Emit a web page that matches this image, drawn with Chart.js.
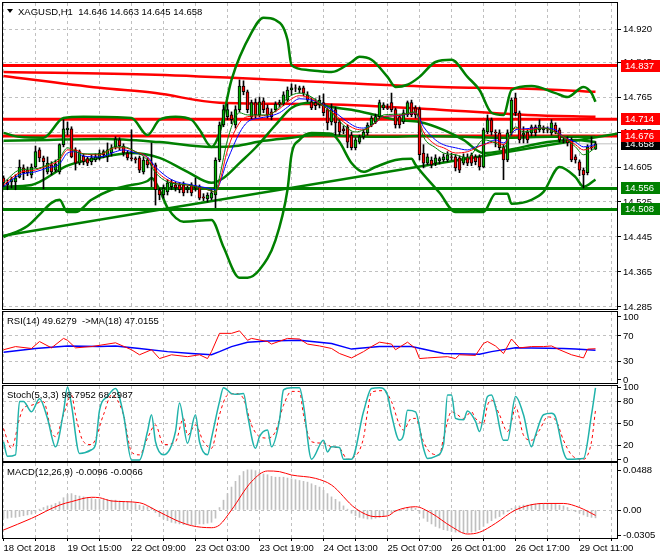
<!DOCTYPE html>
<html lang="en">
<head>
<meta charset="UTF-8">
<title>XAGUSD H1</title>
<script src="https://cdn.jsdelivr.net/npm/chart.js"></script>
<style>
  body { margin: 0; background: #fff; }
  .wrap { position: relative; width: 660px; height: 560px; }
  .wrap canvas { position: absolute; left: 0; top: 0; }
</style>
</head>
<body>
<div class="wrap">
  <canvas id="main" width="660" height="560"></canvas>
  <canvas id="rsi" width="660" height="560"></canvas>
  <canvas id="stoch" width="660" height="560"></canvas>
  <canvas id="macd" width="660" height="560"></canvas>
</div>
<script>
// ---- candles (H1, 149 bars) ----
const opens = [
  14.580,14.569,14.571,14.571,14.582,14.603,14.592,14.587,14.605,14.644,
  14.626,14.594,14.610,14.598,14.594,14.656,14.690,14.692,14.644,14.614,
  14.630,14.624,14.617,14.621,14.626,14.640,14.628,14.637,14.651,14.667,
  14.653,14.637,14.626,14.624,14.626,14.594,14.621,14.610,14.610,14.553,
  14.541,14.548,14.560,14.564,14.564,14.564,14.553,14.564,14.557,14.560,
  14.537,14.532,14.534,14.541,14.621,14.701,14.720,14.724,14.701,14.736,
  14.790,14.777,14.720,14.752,14.724,14.756,14.740,14.731,14.736,14.749,
  14.749,14.758,14.781,14.786,14.781,14.786,14.770,14.754,14.752,14.747,
  14.752,14.736,14.708,14.736,14.708,14.692,14.697,14.678,14.649,14.662,
  14.674,14.683,14.701,14.708,14.720,14.740,14.740,14.752,14.736,14.720,
  14.708,14.724,14.752,14.740,14.738,14.637,14.614,14.621,14.614,14.619,
  14.621,14.621,14.628,14.628,14.626,14.614,14.628,14.633,14.628,14.628,
  14.605,14.685,14.713,14.685,14.683,14.651,14.621,14.683,14.763,14.729,
  14.678,14.685,14.683,14.697,14.690,14.690,14.690,14.683,14.701,14.690,
  14.665,14.667,14.667,14.628,14.617,14.598,14.592,14.649,14.646
];
const closes = [
  14.569,14.564,14.578,14.580,14.605,14.592,14.598,14.605,14.640,14.626,
  14.617,14.614,14.594,14.612,14.656,14.692,14.694,14.628,14.614,14.640,
  14.617,14.614,14.626,14.628,14.637,14.633,14.644,14.649,14.669,14.653,
  14.637,14.626,14.624,14.621,14.598,14.621,14.610,14.614,14.553,14.541,
  14.557,14.569,14.569,14.557,14.553,14.546,14.557,14.546,14.562,14.534,
  14.534,14.541,14.546,14.621,14.701,14.736,14.736,14.713,14.736,14.790,
  14.777,14.736,14.752,14.724,14.754,14.736,14.724,14.720,14.749,14.752,
  14.770,14.781,14.786,14.785,14.786,14.774,14.758,14.740,14.745,14.758,
  14.729,14.706,14.736,14.706,14.685,14.688,14.662,14.649,14.667,14.674,
  14.685,14.701,14.717,14.720,14.752,14.747,14.739,14.736,14.701,14.701,
  14.729,14.752,14.724,14.724,14.633,14.614,14.628,14.610,14.626,14.624,
  14.628,14.633,14.627,14.603,14.598,14.628,14.614,14.614,14.617,14.605,
  14.690,14.713,14.685,14.683,14.649,14.621,14.683,14.758,14.729,14.667,
  14.683,14.667,14.697,14.683,14.701,14.694,14.689,14.706,14.685,14.667,
  14.664,14.660,14.621,14.621,14.598,14.587,14.651,14.651,14.658
];
const highs = [
  14.585,14.576,14.582,14.587,14.621,14.610,14.605,14.612,14.653,14.649,
  14.630,14.628,14.617,14.621,14.658,14.713,14.708,14.697,14.649,14.644,
  14.635,14.628,14.633,14.635,14.644,14.644,14.660,14.656,14.674,14.672,
  14.658,14.642,14.690,14.628,14.630,14.628,14.626,14.660,14.614,14.557,
  14.564,14.576,14.576,14.571,14.569,14.571,14.562,14.569,14.580,14.564,
  14.544,14.546,14.553,14.626,14.708,14.747,14.749,14.731,14.745,14.804,
  14.802,14.781,14.758,14.761,14.765,14.763,14.747,14.738,14.754,14.758,
  14.777,14.788,14.795,14.793,14.790,14.790,14.777,14.763,14.761,14.768,
  14.772,14.740,14.749,14.742,14.713,14.699,14.701,14.685,14.672,14.678,
  14.690,14.706,14.722,14.726,14.758,14.752,14.749,14.774,14.740,14.724,
  14.736,14.756,14.758,14.745,14.742,14.656,14.635,14.628,14.633,14.628,
  14.635,14.640,14.637,14.633,14.630,14.635,14.635,14.637,14.633,14.633,
  14.694,14.724,14.717,14.690,14.690,14.656,14.690,14.763,14.774,14.733,
  14.697,14.690,14.701,14.701,14.713,14.699,14.697,14.713,14.706,14.694,
  14.672,14.674,14.672,14.633,14.621,14.603,14.656,14.674,14.663
];
const lows = [
  14.560,14.553,14.557,14.553,14.580,14.576,14.585,14.580,14.603,14.617,
  14.555,14.589,14.587,14.594,14.589,14.651,14.678,14.626,14.598,14.610,
  14.610,14.608,14.610,14.617,14.621,14.626,14.617,14.630,14.646,14.644,
  14.630,14.621,14.619,14.614,14.592,14.589,14.603,14.560,14.518,14.530,
  14.534,14.541,14.553,14.550,14.546,14.539,14.546,14.539,14.550,14.530,
  14.528,14.525,14.530,14.512,14.617,14.697,14.713,14.704,14.694,14.731,
  14.770,14.729,14.715,14.717,14.720,14.729,14.717,14.713,14.731,14.742,
  14.745,14.754,14.770,14.777,14.774,14.768,14.754,14.736,14.736,14.740,
  14.722,14.690,14.701,14.678,14.678,14.681,14.649,14.644,14.644,14.658,
  14.669,14.678,14.697,14.704,14.715,14.736,14.736,14.731,14.694,14.694,
  14.704,14.720,14.720,14.717,14.621,14.603,14.610,14.603,14.608,14.612,
  14.617,14.617,14.621,14.596,14.592,14.610,14.608,14.608,14.610,14.598,
  14.603,14.681,14.678,14.651,14.644,14.576,14.617,14.678,14.722,14.660,
  14.660,14.660,14.676,14.676,14.685,14.683,14.683,14.678,14.681,14.662,
  14.660,14.653,14.617,14.614,14.585,14.557,14.587,14.644,14.645
];

// ---- overlays on price, [bar, price] ----
const bbUpper = [[0,14.683],[4,14.674],[10,14.672],[15,14.717],[20,14.720],[32,14.717],[36,14.678],[39,14.713],[43,14.720],[47,14.713],[49,14.690],[52,14.651],[54,14.683],[57,14.804],[62,14.912],[65,14.946],[68,14.941],[71,14.896],[72,14.838],[76,14.827],[82,14.822],[87,14.845],[89,14.857],[92,14.850],[96,14.811],[98,14.788],[101,14.793],[104,14.811],[108,14.845],[112,14.850],[116,14.811],[119,14.781],[122,14.729],[125,14.724],[127,14.781],[132,14.790],[138,14.774],[141,14.765],[145,14.788],[147,14.774],[148,14.754]];
const bbLower = [[0,14.445],[6,14.470],[9,14.496],[12,14.523],[14,14.530],[16,14.502],[18,14.502],[22,14.530],[27,14.553],[31,14.562],[36,14.573],[37,14.580],[39,14.553],[41,14.512],[45,14.480],[52,14.484],[55,14.422],[59,14.352],[61,14.352],[64,14.370],[68,14.438],[71,14.553],[72,14.633],[74,14.667],[77,14.683],[82,14.681],[84,14.662],[87,14.614],[90,14.594],[93,14.605],[98,14.621],[102,14.624],[103,14.610],[109,14.546],[113,14.502],[120,14.502],[123,14.544],[126,14.544],[127,14.521],[132,14.530],[135,14.548],[139,14.605],[143,14.582],[145,14.560],[148,14.576]];
const bbMid = [[0,14.560],[7,14.564],[16,14.608],[24,14.626],[32,14.637],[39,14.626],[46,14.594],[52,14.569],[55,14.580],[59,14.614],[63,14.649],[68,14.701],[72,14.740],[77,14.752],[82,14.742],[87,14.736],[93,14.724],[98,14.713],[104,14.708],[110,14.690],[115,14.667],[120,14.637],[125,14.642],[136,14.662],[143,14.667],[148,14.662]];
const slowMa = [[0,14.665],[11,14.667],[25,14.669],[39,14.662],[52,14.651],[58,14.653],[65,14.665],[72,14.672],[78,14.678],[85,14.676],[95,14.674],[105,14.676],[115,14.674],[126,14.672],[137,14.674],[148,14.674]];
const redA = [[0,14.822],[38,14.816],[78,14.800],[109,14.788],[131,14.784],[148,14.777]];
const redB = [[0,14.813],[24,14.786],[38,14.774],[54,14.752],[78,14.749],[109,14.736],[131,14.724],[148,14.720]];
const trendLine = [[-0.125,14.448],[153.375,14.681]];
const maFast = [[0,14.569],[4,14.598],[8,14.601],[11,14.610],[14,14.626],[16,14.649],[18,14.640],[20,14.635],[24,14.635],[28,14.651],[30,14.651],[33,14.640],[36,14.621],[38,14.592],[41,14.571],[46,14.564],[51,14.553],[53,14.548],[54,14.582],[56,14.667],[59,14.729],[61,14.724],[66,14.724],[69,14.742],[71,14.763],[74,14.774],[77,14.765],[82,14.729],[85,14.701],[88,14.685],[90,14.690],[93,14.708],[95,14.724],[100,14.726],[103,14.731],[105,14.674],[108,14.649],[110,14.637],[113,14.633],[116,14.626],[120,14.667],[123,14.660],[125,14.649],[128,14.697],[130,14.685],[135,14.694],[140,14.672],[143,14.651],[145,14.633],[148,14.649]];
const maMid = [[0,14.564],[4,14.592],[8,14.598],[11,14.608],[14,14.621],[16,14.644],[18,14.644],[20,14.635],[24,14.633],[28,14.649],[30,14.649],[33,14.640],[36,14.626],[38,14.598],[42,14.571],[47,14.562],[51,14.553],[53,14.548],[54,14.569],[56,14.644],[59,14.706],[61,14.720],[64,14.722],[66,14.724],[69,14.738],[71,14.754],[74,14.768],[77,14.761],[82,14.731],[85,14.708],[88,14.692],[90,14.690],[93,14.706],[95,14.720],[98,14.722],[103,14.729],[105,14.685],[108,14.656],[110,14.649],[113,14.637],[116,14.640],[120,14.656],[123,14.662],[125,14.656],[128,14.694],[130,14.690],[135,14.694],[140,14.674],[143,14.656],[145,14.644],[148,14.653]];
const maSlow = [[0,14.560],[4,14.587],[8,14.594],[11,14.603],[14,14.612],[16,14.637],[18,14.640],[20,14.630],[24,14.628],[28,14.640],[30,14.644],[33,14.637],[36,14.628],[38,14.605],[42,14.576],[47,14.564],[51,14.557],[53,14.553],[56,14.621],[59,14.683],[61,14.708],[64,14.717],[66,14.720],[69,14.729],[71,14.742],[74,14.761],[77,14.758],[79,14.752],[82,14.736],[85,14.715],[88,14.697],[90,14.694],[93,14.706],[95,14.720],[98,14.722],[100,14.724],[103,14.729],[105,14.697],[108,14.667],[110,14.656],[113,14.649],[116,14.644],[118,14.651],[120,14.656],[123,14.667],[125,14.660],[128,14.690],[130,14.692],[133,14.694],[135,14.694],[138,14.690],[140,14.674],[143,14.662],[145,14.651],[148,14.656]];

const levelPrices = [14.837, 14.714, 14.676, 14.556, 14.508];
const levelColors = ['#ff0000', '#ff0000', '#ff0000', '#008000', '#008000'];

// ---- sub windows ----
const rsi = [[0,48],[3,53],[7,50],[9,61],[12,51],[15,66],[16,63],[18,51],[22,53],[28,59],[32,48],[34,40],[37,48],[39,34],[42,40],[46,37],[49,40],[51,34],[52,45],[54,74],[57,74],[59,78],[61,63],[62,66],[66,61],[67,57],[71,66],[74,65],[76,57],[79,54],[82,50],[84,42],[87,35],[90,45],[92,53],[94,60],[97,57],[98,48],[101,60],[103,50],[104,34],[106,35],[111,37],[113,34],[114,40],[118,39],[120,58],[121,61],[123,54],[125,42],[127,65],[129,51],[132,53],[135,53],[137,54],[139,48],[142,40],[145,35],[146,49],[148,49.6279]];
const rsiMa = [[0,44],[8,50],[16,54],[24,53],[28,54],[34,50],[41,45],[47,42],[52,40],[54,45],[57,53],[61,60],[66,62],[74,63],[82,58],[87,49],[94,53],[102,53],[110,42],[119,41],[122,45],[128,51],[140,50],[143,49],[148,47.0155]];
const stochK = [[0,25],[1,5],[3,7],[4,80],[5,80],[7,66],[9,84],[11,57],[13,18],[15,66],[16,100],[17,75],[19,9],[22,14],[23,21],[24,68],[26,87],[28,98],[30,62],[32,0],[34,0],[36,39],[37,62],[38,25],[40,7],[43,39],[44,78],[46,23],[48,62],[49,25],[51,7],[52,30],[54,80],[55,99],[57,91],[58,90],[60,91],[61,62],[63,16],[64,32],[66,41],[67,18],[69,55],[70,96],[72,99],[74,99],[75,75],[77,1],[80,27],[81,11],[82,18],[84,17],[85,1],[87,1],[90,66],[92,98],[94,99],[96,89],[97,62],[99,27],[100,34],[101,68],[103,66],[105,16],[106,2],[108,5],[110,21],[111,89],[112,89],[113,57],[115,55],[116,67],[118,53],[119,39],[121,87],[122,89],[123,73],[125,27],[126,27],[128,87],[130,62],[132,18],[133,34],[135,62],[137,64],[138,59],[140,11],[141,1],[145,2],[147,62],[148,98.7952]];
const stochD = [[0,43],[2,16],[4,57],[5,71],[7,75],[10,80],[12,39],[13,32],[15,62],[17,89],[18,62],[20,25],[22,21],[25,62],[27,89],[30,62],[32,11],[34,7],[36,30],[38,48],[40,21],[43,25],[45,57],[46,34],[48,48],[50,25],[52,16],[54,62],[56,89],[58,91],[60,84],[62,48],[64,32],[66,30],[68,39],[70,75],[72,94],[74,94],[75,62],[77,25],[80,23],[81,21],[82,18],[84,16],[86,1],[87,2],[90,30],[91,66],[92,93],[95,95],[97,80],[99,48],[100,41],[102,57],[103,57],[105,25],[107,9],[109,7],[110,30],[112,66],[113,64],[115,57],[117,66],[118,57],[120,50],[121,75],[122,82],[124,62],[126,39],[127,53],[128,73],[130,34],[132,27],[134,41],[136,59],[138,55],[140,27],[142,7],[145,1],[147,25],[148,68.2987]];
const macdMain = [
  -0.010,-0.010,-0.009,-0.009,-0.008,-0.007,-0.006,-0.005,-0.003,0.001,
  0.003,0.005,0.006,0.008,0.010,0.015,0.019,0.020,0.018,0.017,
  0.016,0.015,0.014,0.013,0.013,0.013,0.013,0.012,0.012,0.011,
  0.010,0.010,0.009,0.008,0.006,0.005,0.004,0.003,-0.003,-0.008,
  -0.011,-0.013,-0.015,-0.016,-0.017,-0.018,-0.018,-0.018,-0.018,-0.017,
  -0.017,-0.016,-0.015,-0.010,0.003,0.012,0.020,0.028,0.035,0.042,
  0.047,0.049,0.049,0.048,0.046,0.044,0.043,0.041,0.040,0.040,
  0.040,0.039,0.038,0.037,0.036,0.035,0.034,0.032,0.030,0.028,
  0.024,0.020,0.016,0.013,0.010,0.005,0.001,-0.004,-0.007,-0.009,
  -0.010,-0.011,-0.011,-0.010,-0.009,-0.008,-0.006,-0.004,-0.002,-0.001,
  0.001,0.002,0.003,0.002,-0.004,-0.010,-0.014,-0.017,-0.020,-0.022,
  -0.024,-0.025,-0.026,-0.027,-0.027,-0.028,-0.028,-0.027,-0.026,-0.024,
  -0.020,-0.016,-0.013,-0.010,-0.008,-0.005,-0.002,0.002,0.004,0.005,
  0.006,0.006,0.007,0.007,0.008,0.008,0.008,0.007,0.007,0.006,
  0.005,0.003,0.000,-0.002,-0.004,-0.006,-0.008,-0.009,-0.0096
];
const macdSignal = [[0,-0.0244],[7,-0.0102],[14,0.006],[17,0.0102],[22,0.0155],[24,0.015],[27,0.011],[34,0.0089],[38,0],[43,-0.0122],[47,-0.0191],[52,-0.0216],[54,-0.0183],[57,0],[62,0.0346],[66,0.0476],[69,0.0468],[72,0.0427],[78,0.0386],[82,0.0305],[88,0.002],[93,-0.0081],[96,-0.0073],[98,-0.0012],[103,0.004],[107,-0.004],[112,-0.0203],[116,-0.0293],[119,-0.0272],[123,-0.0163],[128,0],[135,0.008],[140,0.008],[144,0.003],[148,-0.0066]];

// ---- axes ----
const timeLabels = ['18 Oct 2018','19 Oct 15:00','22 Oct 09:00','23 Oct 03:00','23 Oct 19:00','24 Oct 13:00','25 Oct 07:00','26 Oct 01:00','26 Oct 17:00','29 Oct 11:00'];
const priceTicks = [14.285,14.365,14.445,14.525,14.605,14.685,14.765,14.845,14.920];
const priceTickLabels = ['14.285','14.365','14.445','14.525','14.605','14.685','14.765','14.845','14.920'];

const FONT = '"Liberation Sans", Arial, sans-serif';
Chart.defaults.font.family = FONT;
Chart.defaults.font.size = 9.5;
Chart.defaults.color = '#000';

const pts = arr => arr.map(p => ({x: p[0], y: p[1]}));
const gridBars = [];
for (let b = 0; b <= 152; b += 8) gridBars.push(b);

function timeAxis(showLabels) {
  return {
    type: 'linear', min: -0.125, max: 153.375, offset: false,
    afterBuildTicks: s => { s.ticks = gridBars.map(v => ({value: v})); },
    grid: {offset: false, color: '#c0c0c0', drawTicks: showLabels, tickLength: 3, tickColor: '#000'},
    border: {display: false, dash: [3, 3]},
    ticks: {display: showLabels, align: 'start', padding: 2, maxRotation: 0, autoSkip: false,
      callback: v => (v % 16 === 0 ? timeLabels[v / 16] : '')},
    afterFit: s => { s.height = showLabels ? 17 : 0; s.paddingLeft = 0; s.paddingRight = 0; }
  };
}

function valueAxis(min, max, values, labels, gridOn) {
  return {
    position: 'right', min, max,
    afterBuildTicks: s => { s.ticks = values.map(v => ({value: v})); },
    ticks: {padding: 2, callback: (v, i) => labels[i]},
    grid: {color: c => (gridOn[c.index] ? '#c0c0c0' : 'rgba(0,0,0,0)'), tickLength: 4, tickColor: '#000'},
    border: {display: false, dash: [3, 3]},
    afterFit: s => { s.width = 43; s.paddingTop = 0; s.paddingBottom = 0; }
  };
}

// frame + window title
const frame = {
  id: 'frame',
  afterDraw(chart, args, opts) {
    const {ctx, chartArea: a} = chart;
    ctx.save();
    ctx.strokeStyle = '#000';
    ctx.lineWidth = 1;
    ctx.strokeRect(a.left - 0.5, a.top - 0.5, a.right - a.left + 1, a.bottom - a.top + 1);
    ctx.fillStyle = '#000';
    ctx.font = '9.5px ' + FONT;
    ctx.textBaseline = 'middle';
    let tx = a.left + 4;
    if (opts.arrow) {
      ctx.beginPath();
      ctx.moveTo(a.left + 4, a.top + 6);
      ctx.lineTo(a.left + 10, a.top + 6);
      ctx.lineTo(a.left + 7, a.top + 10);
      ctx.closePath();
      ctx.fill();
      tx = a.left + 15;
    }
    ctx.fillText(opts.title, tx, a.top + 9);
    ctx.restore();
  }
};

// price tags on the right axis (current price first, levels over it)
const tags = {
  id: 'tags',
  afterDraw(chart) {
    const {ctx, chartArea: a, scales: {y}} = chart;
    const list = [[closes[closes.length - 1], '#000']];
    levelPrices.forEach((p, k) => list.push([p, levelColors[k]]));
    ctx.save();
    ctx.font = '9.5px ' + FONT;
    ctx.textBaseline = 'middle';
    list.forEach(([p, col]) => {
      const py = Math.round(y.getPixelForValue(p));
      ctx.fillStyle = col;
      ctx.fillRect(a.right + 4, py - 6, 40, 12);
      ctx.fillStyle = '#fff';
      ctx.fillText(p.toFixed(3), a.right + 8, py + 0.5);
    });
    ctx.restore();
  }
};

function opts(padTop, padBottom, yAxis, showTime, title, arrow) {
  return {
    responsive: false, animation: false, events: [],
    layout: {padding: {left: 3, right: 0, top: padTop, bottom: padBottom}},
    scales: {x: timeAxis(showTime), y: yAxis},
    plugins: {legend: {display: false}, tooltip: {enabled: false}, frame: {title, arrow}}
  };
}

function line(data, color, width, order, extra) {
  return Object.assign({type: 'line', data: pts(data), borderColor: color, borderWidth: width,
    pointRadius: 0, fill: false, cubicInterpolationMode: 'monotone', order}, extra || {});
}

// ---- main window ----
const mainSets = [];
levelPrices.forEach((p, k) => {
  mainSets.push(line([[-0.125, p], [153.375, p]], levelColors[k], 3, 9));
});
mainSets.push(line([[-0.125, closes[148]], [153.375, closes[148]]], '#c0c0c0', 1, 10));
mainSets.push(line(trendLine, '#008000', 2.5, 8));
mainSets.push(line(redA, '#ff0000', 2.5, 8));
mainSets.push(line(redB, '#ff0000', 2.5, 8));
mainSets.push(line(slowMa, '#008000', 2.5, 7));
mainSets.push(line(bbUpper, '#008000', 2.5, 6));
mainSets.push(line(bbMid, '#008000', 2.5, 6));
mainSets.push(line(bbLower, '#008000', 2.5, 6));
mainSets.push({
  type: 'bar', data: lows.map((l, i) => ({x: i, y: [l, highs[i]]})),
  backgroundColor: '#000', barThickness: 1, grouped: false, order: 4
});
mainSets.push({
  type: 'bar', data: opens.map((o, i) => ({x: i, y: [o, closes[i]]})),
  backgroundColor: opens.map((o, i) => (closes[i] >= o ? '#00b000' : '#ff0000')),
  borderColor: '#000', borderWidth: 1, borderSkipped: false, barThickness: 3, grouped: false, order: 3
});
mainSets.push(line(maSlow, '#0000ff', 1, 2));
mainSets.push(line(maMid, '#ff0000', 1, 1));
mainSets.push(line(maFast, '#008000', 1, 0));

new Chart(document.getElementById('main'), {
  type: 'bar',
  data: {datasets: mainSets},
  options: opts(3, 251, valueAxis(14.2804, 14.9799, priceTicks, priceTickLabels, priceTicks.map(() => true)),
    false, 'XAGUSD,H1  14.646 14.663 14.645 14.658', true),
  plugins: [frame, tags]
});

// ---- RSI ----
new Chart(document.getElementById('rsi'), {
  type: 'line',
  data: {datasets: [
    line(rsiMa, '#0000ff', 1.5, 1, {cubicInterpolationMode: 'default', tension: 0}),
    line(rsi, '#ff0000', 1, 0, {cubicInterpolationMode: 'default', tension: 0})
  ]},
  options: opts(312, 177, valueAxis(-4.8, 107.9, [0, 30, 70, 100], ['0', '30', '70', '100'], [false, true, true, false]),
    false, 'RSI(14) 49.6279  ->MA(18) 47.0155'),
  plugins: [frame]
});

// ---- Stochastic ----
new Chart(document.getElementById('stoch'), {
  type: 'line',
  data: {datasets: [
    line(stochD, '#ff0000', 1, 1, {borderDash: [3, 3]}),
    line(stochK, '#20b2aa', 1.5, 0)
  ]},
  options: opts(386, 99, valueAxis(-1.4, 101.4, [0, 20, 50, 80, 100], ['0', '20', '50', '80', '100'], [false, true, true, true, false]),
    false, 'Stoch(5,3,3) 98.7952 68.2987'),
  plugins: [frame]
});

// ---- MACD ----
new Chart(document.getElementById('macd'), {
  type: 'bar',
  data: {datasets: [
    {type: 'bar', data: macdMain.map((v, i) => ({x: i, y: v})), backgroundColor: '#c0c0c0',
      barThickness: 1, grouped: false, order: 1},
    line(macdSignal, '#ff0000', 1, 0)
  ]},
  options: opts(463, 5, valueAxis(-0.03416, 0.05734, [-0.0305, 0, 0.0488], ['-0.0305', '0.00', '0.0488'], [false, true, false]),
    true, 'MACD(12,26,9) -0.0096 -0.0066'),
  plugins: [frame]
});
</script>
</body>
</html>
